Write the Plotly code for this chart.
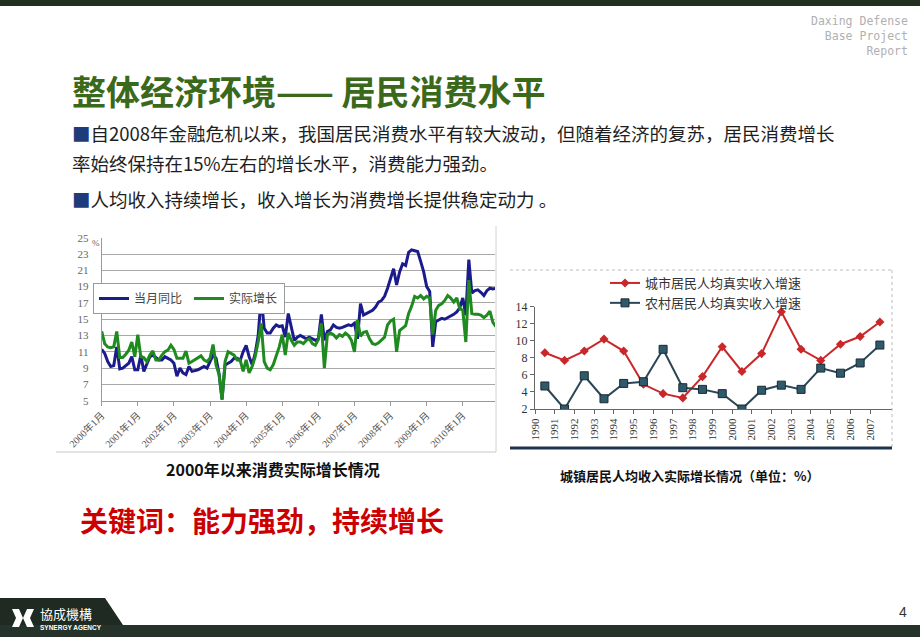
import plotly.graph_objects as go

W, H = 920, 637


def px(x):
    return x / W


def py(y):
    return 1 - y / H


# ---------------- data: left chart (monthly, %) ----------------
years = list(range(2000, 2011))
months = [f"{y}年{m}月" for y in years for m in range(1, 13)]
month_ticks = [f"{y}年1月" for y in years]

nominal_yoy = [
    11.3, 10.8, 9.8, 9.2, 9.3, 11.6, 8.9, 9.0, 9.3, 9.6, 10.4, 8.8,
    8.8, 10.6, 8.6, 9.6, 10.4, 10.6, 10.3, 10.0, 10.0, 10.4, 10.2, 10.0,
    9.6, 8.0, 9.0, 8.4, 8.2, 9.2, 8.6, 8.7, 8.8, 9.0, 9.2, 9.0,
    9.8, 10.6, 10.2, 8.3, 5.2, 9.4, 9.6, 9.8, 10.2, 10.2, 9.9, 11.0,
    11.8, 10.4, 9.4, 10.8, 13.0, 17.8, 13.9, 13.3, 13.3, 13.9, 14.3, 14.1,
    14.2, 12.8, 15.7, 13.9, 12.4, 12.8, 13.0, 12.8, 12.6, 12.8, 12.6, 12.4,
    12.6, 15.6, 12.4, 13.5, 13.7, 14.3, 14.0, 13.9, 14.0, 14.2, 14.3, 14.2,
    14.5, 12.6, 16.9, 15.5, 15.7, 15.9, 16.1, 16.5, 17.1, 17.3, 17.8, 18.8,
    20.0, 21.2, 19.2, 20.8, 21.8, 21.6, 23.2, 23.5, 23.4, 23.3, 22.1, 20.8,
    19.0, 18.4, 11.6, 14.7, 14.9, 15.1, 15.0, 15.2, 15.3, 15.6, 15.9, 16.4,
    17.6, 15.5, 22.3, 18.2, 18.5, 18.6, 18.3, 17.9, 18.5, 18.8, 18.7, 18.8,
]

real_growth = [
    13.5, 12.0, 11.6, 11.5, 11.6, 13.5, 10.3, 10.3, 10.7, 11.2, 12.2, 10.4,
    13.1, 10.4, 10.3, 9.8, 10.6, 11.1, 10.0, 10.0, 10.6, 11.0, 11.2, 11.8,
    11.3, 10.2, 10.2, 10.2, 11.1, 9.6, 9.8, 10.0, 10.2, 10.5, 10.0, 9.8,
    10.2, 11.9, 9.4, 8.2, 5.1, 9.8, 11.0, 10.8, 10.6, 10.0, 10.0, 8.6,
    10.0, 8.4, 9.2, 10.4, 12.2, 14.5, 9.8, 9.0, 8.8, 9.4, 10.4, 11.6,
    13.1, 10.6, 13.3, 12.4, 11.8, 12.2, 12.2, 12.0, 12.4, 12.6, 12.0, 11.8,
    12.5, 14.5, 9.0, 13.1, 13.3, 13.1, 12.7, 13.1, 12.9, 13.3, 13.0, 12.4,
    11.0, 14.9, 12.9, 13.4, 13.5, 12.6, 12.0, 11.9, 12.1, 12.5, 12.8, 14.3,
    14.8, 15.0, 11.0, 13.6, 13.9, 14.2, 15.7, 16.6, 17.8, 17.6, 17.9, 17.5,
    17.8, 17.6, 13.1, 16.1, 16.7, 16.9, 17.3, 17.9, 17.6, 17.1, 17.6, 16.3,
    16.1, 12.2, 19.8, 15.7, 15.6, 15.6, 15.5, 15.2, 15.5, 16.0, 14.6, 14.1,
]

# ---------------- data: right chart (yearly, %) ----------------
inc_years = list(range(1990, 2008))
urban_income = [8.6, 7.7, 8.8, 10.2, 8.8, 4.9, 3.8, 3.3, 5.8, 9.3,
                6.4, 8.5, 13.4, 9.0, 7.7, 9.6, 10.5, 12.2]
rural_income = [4.7, 2.0, 5.9, 3.2, 5.0, 5.2, 9.0, 4.5, 4.3, 3.8,
                2.0, 4.2, 4.8, 4.3, 6.8, 6.2, 7.4, 9.5]

SERIF = "Liberation Serif, Noto Sans CJK SC, serif"
CJK = "Noto Sans CJK SC, sans-serif"

fig = go.Figure()

fig.add_trace(go.Scatter(
    x=months, y=nominal_yoy, name="当月同比", mode="lines",
    line=dict(color="#1b1b8c", width=3), xaxis="x", yaxis="y", legend="legend"))
fig.add_trace(go.Scatter(
    x=months, y=real_growth, name="实际增长", mode="lines",
    line=dict(color="#1f8a1f", width=3), xaxis="x", yaxis="y", legend="legend"))

fig.add_trace(go.Scatter(
    x=inc_years, y=urban_income, name="城市居民人均真实收入增速", mode="lines+markers",
    line=dict(color="#c8282a", width=2),
    marker=dict(symbol="diamond", size=7, color="#c8282a"),
    xaxis="x2", yaxis="y2", legend="legend2"))
fig.add_trace(go.Scatter(
    x=inc_years, y=rural_income, name="农村居民人均真实收入增速", mode="lines+markers",
    line=dict(color="#2b4756", width=2),
    marker=dict(symbol="square", size=8, color="#2f5a6c", line=dict(color="#1a2a33", width=1)),
    xaxis="x2", yaxis="y2", legend="legend2"))

shapes = [
    # top band
    dict(type="rect", xref="paper", yref="paper", x0=0, x1=1, y0=py(6), y1=1,
         fillcolor="#22301f", line=dict(width=0), layer="below"),
    # bottom band
    dict(type="rect", xref="paper", yref="paper", x0=0, x1=1, y0=0, y1=py(625),
         fillcolor="#26332a", line=dict(width=0), layer="below"),
    # logo block
    dict(type="path", xref="paper", yref="paper",
         path=f"M 0 {py(598)} L {px(105)} {py(598)} L {px(123)} {py(625)} L 0 {py(625)} Z",
         fillcolor="#1e2a22", line=dict(width=0), layer="below"),
    # logo icon
    dict(type="path", xref="paper", yref="paper",
         path=(f"M {px(12)} {py(609)} L {px(19)} {py(609)} L {px(23)} {py(618)} L {px(19)} {py(627)} "
               f"L {px(12)} {py(627)} L {px(16)} {py(618)} Z"),
         fillcolor="white", line=dict(width=0)),
    dict(type="path", xref="paper", yref="paper",
         path=(f"M {px(34)} {py(609)} L {px(27)} {py(609)} L {px(23)} {py(618)} L {px(27)} {py(627)} "
               f"L {px(34)} {py(627)} L {px(30)} {py(618)} Z"),
         fillcolor="white", line=dict(width=0)),
    # left chart frame (right + bottom)
    dict(type="line", xref="paper", yref="paper", x0=px(496), x1=px(496), y0=py(226), y1=py(452),
         line=dict(color="#d2d2d2", width=1)),
    dict(type="line", xref="paper", yref="paper", x0=px(56), x1=px(496), y0=py(452), y1=py(452),
         line=dict(color="#c8c8c8", width=1)),
    # right chart frame
    dict(type="line", xref="paper", yref="paper", x0=px(510), x1=px(892), y0=py(270), y1=py(270),
         line=dict(color="#bdbdbd", width=1, dash="dot")),
    dict(type="line", xref="paper", yref="paper", x0=px(892), x1=px(892), y0=py(270), y1=py(448),
         line=dict(color="#bdbdbd", width=1, dash="dot")),
    dict(type="line", xref="paper", yref="paper", x0=px(510), x1=px(892), y0=py(448), y1=py(448),
         line=dict(color="#1d3550", width=3)),
]


def ann(x, y, text, size, color, family=CJK, xanchor="left", yanchor="middle", align="left"):
    return dict(x=px(x), y=py(y), xref="paper", yref="paper", text=text, showarrow=False,
                xanchor=xanchor, yanchor=yanchor, align=align,
                font=dict(size=size, color=color, family=family))


bullet = "<span style='color:#1f3c7a'>■</span>"
annotations = [
    ann(910, 36, "Daxing Defense<br>Base Project<br>Report", 11.5, "#b0b0b0",
        "DejaVu Sans Mono, monospace", "right", "middle", "right"),
    ann(70, 90, "<b>整体经济环境—— 居民消费水平</b>", 34, "#3b691b"),
    ann(70, 133, bullet + "自2008年金融危机以来，我国居民消费水平有较大波动，但随着经济的复苏，居民消费增长", 18.5, "#1e1e1e"),
    ann(70, 163, "率始终保持在15%左右的增长水平，消费能力强劲。", 18.5, "#1e1e1e"),
    ann(70, 199, bullet + "人均收入持续增长，收入增长为消费增长提供稳定动力 。", 18.5, "#1e1e1e"),
    ann(90, 243, "%", 9, "#666666", SERIF),
    ann(273, 469, "<b>2000年以来消费实际增长情况</b>", 16, "#111111", CJK, "center"),
    ann(690, 475, "<b>城镇居民人均收入实际增长情况（单位：%）</b>", 13, "#111111", CJK, "center"),
    ann(78, 520, "<b>关键词：能力强劲，持续增长</b>", 28, "#cc0000"),
    ann(38, 613, "協成機構", 13, "#ffffff", CJK),
    ann(38, 627.5, "<b>SYNERGY AGENCY</b>", 6.5, "#ffffff", "Liberation Sans, sans-serif"),
    ann(903, 612, "4", 14, "#333333", "Liberation Sans, sans-serif", "center"),
]

fig.update_layout(
    width=W, height=H,
    margin=dict(l=0, r=0, t=0, b=0, autoexpand=False),
    paper_bgcolor="white", plot_bgcolor="white",
    shapes=shapes, annotations=annotations,
    xaxis=dict(
        domain=[px(101.7), px(495)], anchor="y", type="category", automargin=False,
        categoryorder="array", categoryarray=months,
        range=[0, 130.7], tickvals=month_ticks, ticktext=month_ticks,
        tickangle=-45, ticks="outside", ticklen=4, tickcolor="#9a9a9a",
        showline=True, linecolor="#9a9a9a", showgrid=False, zeroline=False,
        tickfont=dict(size=10, color="#555555", family=SERIF)),
    yaxis=dict(
        domain=[py(400.7), py(237.7)], anchor="x", range=[5, 25], automargin=False,
        tick0=5, dtick=2, showgrid=True, gridcolor="#a8a8a8", gridwidth=1,
        showline=True, linecolor="#9a9a9a", zeroline=False, ticks="",
        ticklabelstandoff=10,
        tickfont=dict(size=11, color="#666666", family=SERIF)),
    xaxis2=dict(
        domain=[px(535), px(891.7)], anchor="y2", range=[1989.5, 2007.6], automargin=False,
        tickvals=[y - 0.5 for y in inc_years], ticktext=[str(y) for y in inc_years],
        tickangle=-90, ticks="outside", ticklen=4, tickcolor="#666666",
        showline=True, linecolor="#666666", showgrid=False, zeroline=False,
        tickfont=dict(size=11, color="#333333", family=SERIF)),
    yaxis2=dict(
        domain=[py(409), py(306.7)], anchor="x2", range=[2, 14], automargin=False,
        tick0=2, dtick=2, ticks="outside", ticklen=4, tickcolor="#666666",
        showline=True, linecolor="#666666", showgrid=False, zeroline=False,
        tickfont=dict(size=12, color="#333333", family=SERIF)),
    legend=dict(
        x=px(93), y=py(283), xanchor="left", yanchor="top", orientation="h",
        bgcolor="white", bordercolor="#9a9a9a", borderwidth=1,
        font=dict(size=12, color="#444444", family=CJK), itemwidth=30,
        entrywidth=50, tracegroupgap=0),
    legend2=dict(
        x=px(605), y=py(268), xanchor="left", yanchor="top", orientation="v",
        bgcolor="rgba(0,0,0,0)", borderwidth=0,
        font=dict(size=13, color="#333333", family=CJK), itemwidth=30,
        tracegroupgap=0),
    showlegend=True,
)

fig.write_html("out.html")
